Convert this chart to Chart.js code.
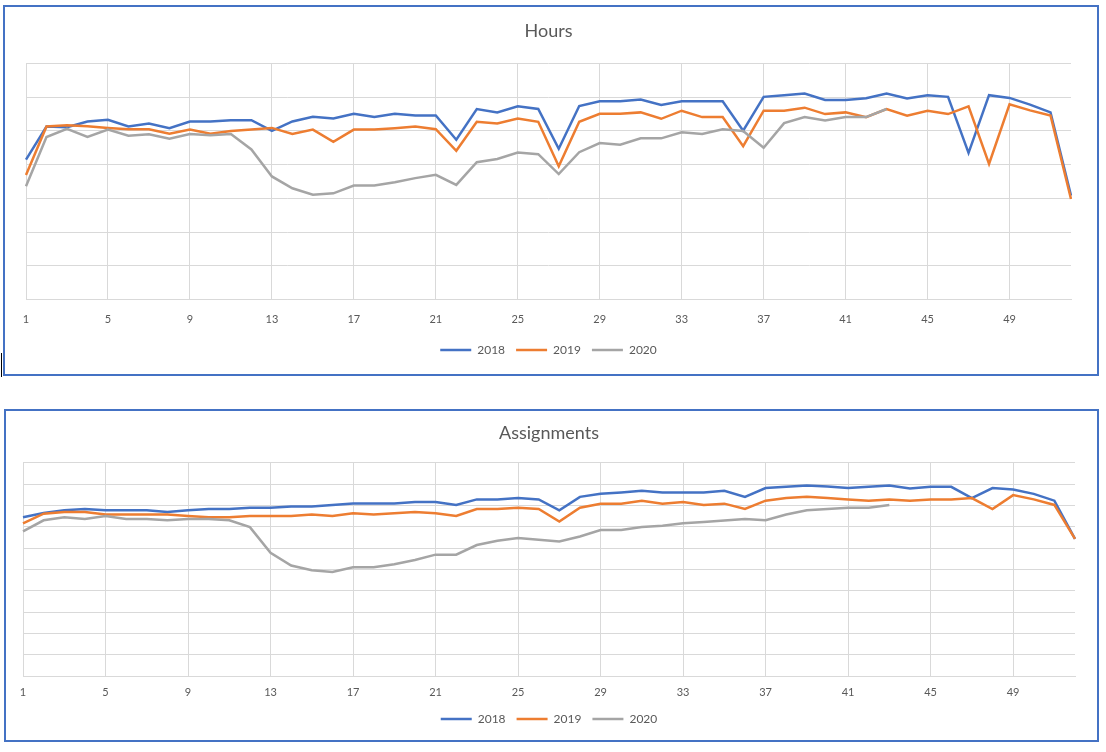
<!DOCTYPE html>
<html><head><meta charset="utf-8">
<script src="https://cdn.jsdelivr.net/npm/chart.js@4.4.1/dist/chart.umd.min.js"></script>
<style>
html,body{margin:0;padding:0;background:#fff;width:1106px;height:752px;overflow:hidden;}
.box{position:absolute;border:2px solid #4472C4;background:#fff;}
#box1{left:3px;top:5px;width:1092px;height:367px;}
#box2{left:4px;top:409px;width:1091px;height:329px;}
.box canvas{display:block;}
#cursor{position:absolute;left:1px;top:353px;width:1px;height:24px;background:#000;}
</style></head><body>
<div class="box" id="box1"><canvas id="c1" width="1092" height="367"></canvas></div>
<div class="box" id="box2"><canvas id="c2" width="1091" height="329"></canvas></div>
<div id="cursor"></div>
<script>
const weeks = ['1','2','3','4','5','6','7','8','9','10','11','12','13','14','15','16','17','18','19','20','21','22','23','24','25','26','27','28','29','30','31','32','33','34','35','36','37','38','39','40','41','42','43','44','45','46','47','48','49','50','51','52'];
const seriesNames = ['2018','2019','2020'];

const hours2018 = [4.15,5.13,5.11,5.28,5.33,5.13,5.22,5.08,5.28,5.28, 5.32,5.32,5.0,5.28,5.42,5.37,5.51,5.41,5.51,5.46, 5.46,4.74,5.65,5.55,5.73,5.65,4.47,5.74,5.88,5.88, 5.93,5.77,5.88,5.88,5.88,5.01,6.01,6.06,6.11,5.92, 5.92,5.97,6.11,5.96,6.06,6.01,4.35,6.06,5.98,5.78, 5.55,3.08];
const hours2019 = [3.69,5.13,5.17,5.14,5.09,5.05,5.05,4.92,5.04,4.92, 5.0,5.04,5.09,4.91,5.04,4.68,5.04,5.04,5.08,5.13, 5.05,4.41,5.27,5.22,5.37,5.27,3.95,5.27,5.51,5.51, 5.55,5.36,5.6,5.41,5.41,4.55,5.6,5.6,5.69,5.5, 5.55,5.41,5.65,5.45,5.6,5.5,5.73,4.02,5.79,5.61, 5.46,2.98];
const hours2020 = [3.36,4.82,5.06,4.82,5.04,4.86,4.9,4.77,4.91,4.87, 4.91,4.45,3.65,3.3,3.11,3.15,3.38,3.38,3.48,3.6, 3.7,3.4,4.07,4.17,4.36,4.31,3.72,4.37,4.64,4.59, 4.78,4.78,4.96,4.91,5.05,5.0,4.5,5.23,5.41,5.31, 5.41,5.41,5.65,null,null,null,null,null,null,null, null,null];

const assign2018 = [7.44,7.64,7.77,7.83,7.77,7.77,7.77,7.69,7.77,7.83, 7.83,7.89,7.89,7.95,7.95,8.02,8.09,8.09,8.09,8.16, 8.16,8.02,8.28,8.28,8.34,8.28,7.77,8.40,8.54,8.60, 8.68,8.60,8.60,8.60,8.68,8.40,8.81,8.87,8.93,8.88, 8.81,8.87,8.93,8.79,8.87,8.87,8.34,8.81,8.74,8.54, 8.22,6.43];
const assign2019 = [7.16,7.61,7.69,7.69,7.57,7.57,7.57,7.57,7.50,7.44, 7.44,7.50,7.50,7.50,7.57,7.50,7.63,7.57,7.63,7.69, 7.63,7.50,7.83,7.83,7.89,7.83,7.24,7.89,8.08,8.08, 8.22,8.08,8.16,8.02,8.08,7.83,8.22,8.34,8.40,8.34, 8.28,8.22,8.28,8.22,8.28,8.28,8.34,7.83,8.48,8.28, 8.02,6.43];
const assign2020 = [6.78,7.30,7.44,7.36,7.50,7.36,7.36,7.30,7.36,7.36, 7.30,6.98,5.78,5.18,4.96,4.88,5.10,5.10,5.24,5.44, 5.69,5.69,6.14,6.34,6.47,6.39,6.31,6.54,6.84,6.84, 6.98,7.04,7.16,7.22,7.29,7.36,7.30,7.57,7.77,7.83, 7.89,7.89,8.02,null,null,null,null,null,null,null, null,null];

const COLORS = ['#4472C4','#ED7D31','#A5A5A5'];
const GRID = '#D9D9D9';
const TEXT = '#595959';
const FONT = 'Lato, "Open Sans", sans-serif';

function makeChart(id, title, series, yMax, L) {
  new Chart(document.getElementById(id), {
    type: 'line',
    data: {
      labels: weeks,
      datasets: series.map((d, i) => ({
        label: seriesNames[i], data: d, borderColor: COLORS[i], backgroundColor: COLORS[i],
        borderWidth: 2.5, pointRadius: 0, pointHoverRadius: 0, tension: 0, order: 3 - i, spanGaps: false
      }))
    },
    options: {
      responsive: false, animation: false, events: [],
      layout: { padding: { left: L.left, right: L.right, top: 0, bottom: L.bottom } },
      plugins: {
        title: { display: true, text: title, color: TEXT, font: { family: FONT, size: 18, weight: 'normal' }, padding: { top: L.tt, bottom: L.tb } },
        legend: { position: 'bottom', labels: { usePointStyle: true, pointStyle: 'line', pointStyleWidth: 31, color: TEXT, font: { family: FONT, size: 12 }, padding: 11, sort: (a, b) => a.datasetIndex - b.datasetIndex } },
        tooltip: { enabled: false }
      },
      scales: {
        x: {
          grid: { color: c => (c.index % 4 === 0 ? GRID : 'rgba(0,0,0,0)'), drawTicks: false, lineWidth: 1 },
          border: { color: GRID },
          ticks: { autoSkip: false, maxRotation: 0, color: TEXT, font: { family: FONT, size: 11 }, padding: L.tp,
                   callback: (v, i) => (i % 4 === 0 ? weeks[i] : '') },
          afterFit: s => { s.height = L.xh; }
        },
        y: {
          min: 0, max: yMax,
          grid: { color: GRID, drawTicks: false, lineWidth: 1 },
          border: { display: false },
          ticks: { display: false, stepSize: 1 },
          afterFit: s => { s.width = 0; }
        }
      }
    }
  });
}

makeChart('c1', 'Hours', [hours2018, hours2019, hours2020], 7,
  { left: 21, right: 26, bottom: 8, tt: 13.2, tb: 21.7, xh: 33.5, tp: 12.9 });
makeChart('c2', 'Assignments', [assign2018, assign2019, assign2020], 10,
  { left: 17, right: 22, bottom: 5, tt: 11.2, tb: 18.9, xh: 26, tp: 10.1 });
</script>
</body></html>
